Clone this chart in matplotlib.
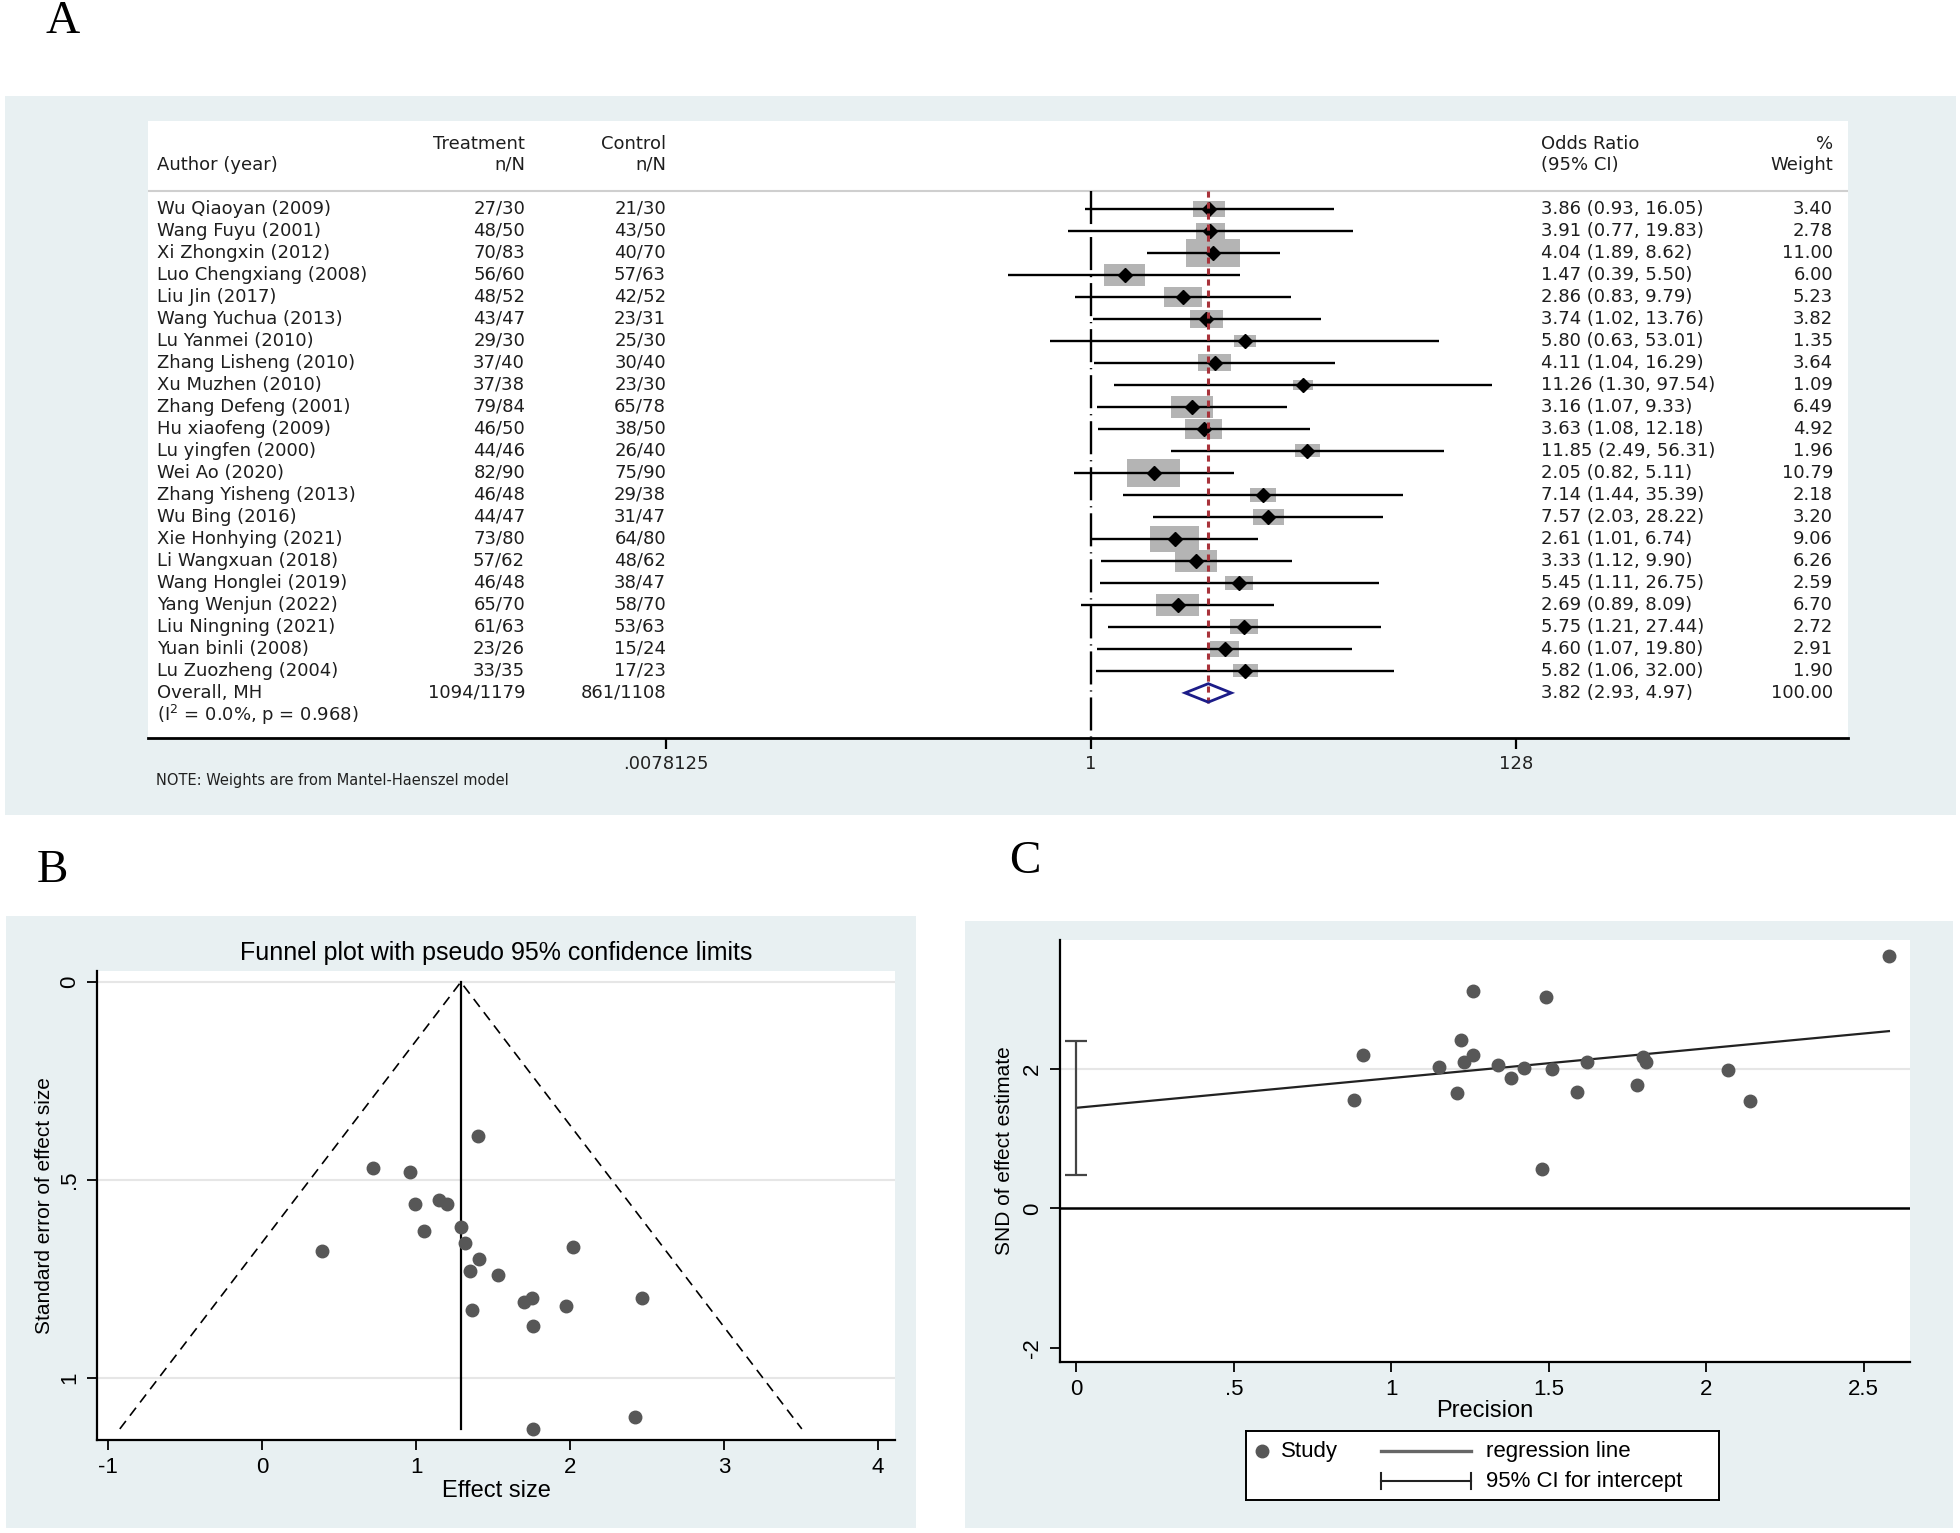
import numpy as np
import matplotlib
matplotlib.use("Agg")
import matplotlib.pyplot as plt
from matplotlib.patches import Rectangle, Polygon
from matplotlib.transforms import blended_transform_factory
from matplotlib.ticker import NullLocator

plt.rcParams['font.family'] = ['Liberation Sans Narrow', 'Liberation Sans', 'DejaVu Sans']

# ---- panel A: forest plot data ----
authors = ["Wu Qiaoyan (2009)", "Wang Fuyu (2001)", "Xi Zhongxin (2012)", "Luo Chengxiang (2008)",
           "Liu Jin (2017)", "Wang Yuchua (2013)", "Lu Yanmei (2010)", "Zhang Lisheng (2010)",
           "Xu Muzhen (2010)", "Zhang Defeng (2001)", "Hu xiaofeng (2009)", "Lu yingfen (2000)",
           "Wei Ao (2020)", "Zhang Yisheng (2013)", "Wu Bing (2016)", "Xie Honhying (2021)",
           "Li Wangxuan (2018)", "Wang Honglei (2019)", "Yang Wenjun (2022)", "Liu Ningning (2021)",
           "Yuan binli (2008)", "Lu Zuozheng (2004)"]
treat = ["27/30", "48/50", "70/83", "56/60", "48/52", "43/47", "29/30", "37/40", "37/38", "79/84", "46/50",
         "44/46", "82/90", "46/48", "44/47", "73/80", "57/62", "46/48", "65/70", "61/63", "23/26", "33/35"]
ctrl = ["21/30", "43/50", "40/70", "57/63", "42/52", "23/31", "25/30", "30/40", "23/30", "65/78", "38/50",
        "26/40", "75/90", "29/38", "31/47", "64/80", "48/62", "38/47", "58/70", "53/63", "15/24", "17/23"]
odds = [3.86, 3.91, 4.04, 1.47, 2.86, 3.74, 5.80, 4.11, 11.26, 3.16, 3.63,
        11.85, 2.05, 7.14, 7.57, 2.61, 3.33, 5.45, 2.69, 5.75, 4.60, 5.82]
ci_lo = [0.93, 0.77, 1.89, 0.39, 0.83, 1.02, 0.63, 1.04, 1.30, 1.07, 1.08,
         2.49, 0.82, 1.44, 2.03, 1.01, 1.12, 1.11, 0.89, 1.21, 1.07, 1.06]
ci_hi = [16.05, 19.83, 8.62, 5.50, 9.79, 13.76, 53.01, 16.29, 97.54, 9.33, 12.18,
         56.31, 5.11, 35.39, 28.22, 6.74, 9.90, 26.75, 8.09, 27.44, 19.80, 32.00]
weight = [3.40, 2.78, 11.00, 6.00, 5.23, 3.82, 1.35, 3.64, 1.09, 6.49, 4.92,
          1.96, 10.79, 2.18, 3.20, 9.06, 6.26, 2.59, 6.70, 2.72, 2.91, 1.90]
overall_label = "Overall, MH"
overall_treat = "1094/1179"
overall_ctrl = "861/1108"
overall_or, overall_lo, overall_hi = 3.82, 2.93, 4.97
overall_weight = 100.00
het_text = r"(I$^{2}$ = 0.0%, p = 0.968)"
forest_ticks = [2 ** -7, 1, 2 ** 7]
forest_ticklabels = [".0078125", "1", "128"]

# ---- panel B: funnel plot data (log OR, SE) ----
effect = [1.35, 1.36, 1.40, 0.39, 1.05, 1.32, 1.76, 1.41, 2.42, 1.15, 1.29,
          2.47, 0.72, 1.97, 2.02, 0.96, 1.20, 1.70, 0.99, 1.75, 1.53, 1.76]
se = [0.73, 0.83, 0.39, 0.68, 0.63, 0.66, 1.13, 0.70, 1.10, 0.55, 0.62,
      0.80, 0.47, 0.82, 0.67, 0.48, 0.56, 0.81, 0.56, 0.80, 0.74, 0.87]
pooled = 1.29

# ---- panel C: Galbraith / Egger plot data ----
precision = [1.38, 1.21, 2.58, 1.48, 1.59, 1.51, 0.88, 1.42, 0.91, 1.81, 1.62,
             1.26, 2.14, 1.22, 1.49, 2.07, 1.80, 1.23, 1.78, 1.26, 1.34, 1.15]
snd = [1.86, 1.65, 3.61, 0.57, 1.67, 1.99, 1.55, 2.01, 2.20, 2.09, 2.09,
       3.11, 1.54, 2.41, 3.02, 1.98, 2.16, 2.09, 1.76, 2.20, 2.05, 2.03]
egger_intercept, egger_slope = 1.44, 0.425
egger_ci = (0.48, 2.39)

W, H = 1960, 1533
BG = '#e8f0f2'
fig = plt.figure(figsize=(W / 100, H / 100), dpi=100)
fig.patch.set_facecolor('white')


def frac_box(x0, y0, x1, y1):
    # pixel box (top-left origin) -> figure fraction rect
    return [x0 / W, 1 - y1 / H, (x1 - x0) / W, (y1 - y0) / H]


def panel_bg(x0, y0, x1, y1):
    r = frac_box(x0, y0, x1, y1)
    fig.add_artist(Rectangle((r[0], r[1]), r[2], r[3], transform=fig.transFigure,
                             facecolor=BG, edgecolor='none', zorder=0))


panel_bg(5, 96, 1956, 815)
panel_bg(6, 916, 916, 1528)
panel_bg(965, 921, 1953, 1528)

serif = ['Liberation Serif', 'DejaVu Serif']
fig.text(63 / W, 1 - 22 / H, "A", fontsize=34, family=serif, ha='center', va='center')
fig.text(52 / W, 1 - 871 / H, "B", fontsize=34, family=serif, ha='center', va='center')
fig.text(1025 / W, 1 - 862 / H, "C", fontsize=34, family=serif, ha='center', va='center')

# ================= A: forest plot =================
ax = fig.add_axes(frac_box(148, 121, 1848, 738))
ax.set_facecolor('white')
ax.set_xscale('log', base=2)
ax.set_xlim(2 ** -15.53, 2 ** 12.47)
ax.set_ylim(24.05, -4.0)
for s in ['top', 'left', 'right']:
    ax.spines[s].set_visible(False)
ax.spines['bottom'].set_linewidth(2)
ax.set_yticks([])
ax.xaxis.set_minor_locator(NullLocator())
ax.set_xticks(forest_ticks)
ax.set_xticklabels(forest_ticklabels, fontfamily='DejaVu Sans', fontsize=13, color='#222222')
ax.tick_params(axis='x', length=8, width=1.6, pad=4)

rows = np.arange(len(authors))
y_overall = len(authors)
y_het = len(authors) + 1
px_per_log2 = 425 / 7.0
px_per_row = 22.0

# weight boxes (area ~ weight)
for o, w, y in zip(odds, weight, rows):
    wpx = 15 * np.sqrt(w) + 4
    hw = wpx / 2 / px_per_log2
    hh = wpx * 0.52 / 2 / px_per_row
    ax.add_patch(Rectangle((o * 2 ** -hw, y - hh), o * 2 ** hw - o * 2 ** -hw, 2 * hh,
                           facecolor='#b4b4b4', edgecolor='none', zorder=2))

ax.hlines(rows, ci_lo, ci_hi, color='black', lw=1.7, zorder=3)
ax.plot(odds, rows, 'D', color='black', ms=7, zorder=4)

# null line and overall effect line
ax.plot([1, 1], [-0.82, 24.05], color='black', lw=1.7, dashes=(14, 2.5, 0.5, 2.5), zorder=3)
ax.plot([overall_or, overall_or], [-0.82, y_overall + 0.45], color='#a8323a', lw=2.2,
        dashes=(2, 1.6), zorder=5)
ax.add_patch(Polygon([(overall_lo, y_overall), (overall_or, y_overall - 0.42),
                      (overall_hi, y_overall), (overall_or, y_overall + 0.42)],
                     closed=True, facecolor='none', edgecolor='#1c1c88', lw=2, zorder=6))
ax.axhline(-0.82, color='#cfcfcf', lw=1.5)

tr = blended_transform_factory(ax.transAxes, ax.transData)


def xcol(px):
    return (px - 148) / 1700.0


tkw = dict(transform=tr, fontsize=13, family='DejaVu Sans', color='#1e1e1e', va='center')
ax.text(xcol(525), -2.95, "Treatment", ha='right', **tkw)
ax.text(xcol(666), -2.95, "Control", ha='right', **tkw)
ax.text(xcol(157), -2.0, "Author (year)", ha='left', **tkw)
ax.text(xcol(525), -2.0, "n/N", ha='right', **tkw)
ax.text(xcol(666), -2.0, "n/N", ha='right', **tkw)
ax.text(xcol(1541), -2.95, "Odds Ratio", ha='left', **tkw)
ax.text(xcol(1541), -2.0, "(95% CI)", ha='left', **tkw)
ax.text(xcol(1833), -2.95, "%", ha='right', **tkw)
ax.text(xcol(1833), -2.0, "Weight", ha='right', **tkw)

for y, a, t, c, o, l, h, w in zip(rows, authors, treat, ctrl, odds, ci_lo, ci_hi, weight):
    ax.text(xcol(157), y, a, ha='left', **tkw)
    ax.text(xcol(525), y, t, ha='right', **tkw)
    ax.text(xcol(666), y, c, ha='right', **tkw)
    ax.text(xcol(1541), y, f"{o:.2f} ({l:.2f}, {h:.2f})", ha='left', **tkw)
    ax.text(xcol(1833), y, f"{w:.2f}", ha='right', **tkw)

ax.text(xcol(157), y_overall, overall_label, ha='left', **tkw)
ax.text(xcol(525), y_overall, overall_treat, ha='right', **tkw)
ax.text(xcol(666), y_overall, overall_ctrl, ha='right', **tkw)
ax.text(xcol(1541), y_overall, f"{overall_or:.2f} ({overall_lo:.2f}, {overall_hi:.2f})", ha='left', **tkw)
ax.text(xcol(1833), y_overall, f"{overall_weight:.2f}", ha='right', **tkw)
ax.text(xcol(157), y_het, het_text, ha='left', **tkw)

fig.text(156 / W, 1 - 780 / H, "NOTE: Weights are from Mantel-Haenszel model",
         fontsize=10.5, family='DejaVu Sans', color='#222222', ha='left', va='center')

# ================= B: funnel plot =================
axb = fig.add_axes(frac_box(97, 971, 895, 1440))
axb.set_facecolor('white')
axb.set_xlim(-1.073, 4.11)
axb.set_ylim(1.158, -0.028)
for s in ['top', 'right']:
    axb.spines[s].set_visible(False)
for s in ['left', 'bottom']:
    axb.spines[s].set_linewidth(1.6)
axb.set_yticks([0, 0.5, 1])
axb.set_yticklabels(['0', '.5', '1'])
axb.set_xticks([-1, 0, 1, 2, 3, 4])
axb.set_xticklabels(['-1', '0', '1', '2', '3', '4'])
axb.tick_params(axis='both', length=7, width=1.3, labelsize=16, pad=5)
axb.tick_params(axis='y', labelrotation=90)
for t in axb.get_yticklabels():
    t.set_va('center')
for g in [0, 0.5, 1]:
    axb.axhline(g, color='#e6e6e6', lw=1.5, zorder=0)

se_max = max(se)
axb.plot([pooled - 1.96 * se_max, pooled, pooled + 1.96 * se_max], [se_max, 0, se_max],
         color='black', lw=1.2, dashes=(6, 4))
axb.plot([pooled, pooled], [0, se_max], color='black', lw=1.6)
axb.plot(effect, se, 'o', color='#575757', ms=9, zorder=4)
axb.set_title("Funnel plot with pseudo 95% confidence limits", fontsize=18, pad=8)
axb.set_xlabel("Effect size", fontsize=17, labelpad=2)
axb.set_ylabel("Standard error of effect size", fontsize=15, labelpad=4)

# ================= C: Galbraith plot =================
axc = fig.add_axes(frac_box(1060, 940, 1910, 1362))
axc.set_facecolor('white')
axc.set_xlim(-0.052, 2.647)
axc.set_ylim(-2.196, 3.84)
for s in ['top', 'right']:
    axc.spines[s].set_visible(False)
for s in ['left', 'bottom']:
    axc.spines[s].set_linewidth(1.6)
axc.set_xticks([0, 0.5, 1, 1.5, 2, 2.5])
axc.set_xticklabels(['0', '.5', '1', '1.5', '2', '2.5'])
axc.set_yticks([-2, 0, 2])
axc.set_yticklabels(['-2', '0', '2'])
axc.tick_params(axis='both', length=7, width=1.3, labelsize=16, pad=5)
axc.tick_params(axis='y', labelrotation=90)
for t in axc.get_yticklabels():
    t.set_va('center')
axc.axhline(2, color='#e6e6e6', lw=1.5, zorder=0)
axc.axhline(0, color='black', lw=1.8, zorder=1)

xr = np.array([0, max(precision)])
axc.plot(xr, egger_intercept + egger_slope * xr, color='#222222', lw=1.6, zorder=3)
axc.errorbar([0], [egger_intercept],
             yerr=[[egger_intercept - egger_ci[0]], [egger_ci[1] - egger_intercept]],
             fmt='none', ecolor='#444444', elinewidth=1.6, capsize=8, capthick=1.6, zorder=3)
axc.plot(precision, snd, 'o', color='#575757', ms=9, zorder=4)
axc.set_xlabel("Precision", fontsize=17, labelpad=0)
axc.set_ylabel("SND of effect estimate", fontsize=15, labelpad=6)

# legend box, drawn by hand to keep the Stata layout
axl = fig.add_axes(frac_box(1246, 1431, 1719, 1500))
axl.set_xlim(1246, 1719)
axl.set_ylim(1500, 1431)
axl.set_xticks([])
axl.set_yticks([])
for s in axl.spines.values():
    s.set_linewidth(1.4)
axl.plot([1262], [1451], 'o', color='#575757', ms=9)
axl.text(1281, 1451, "Study", fontsize=16, va='center', ha='left')
axl.plot([1381, 1471], [1451, 1451], color='#666666', lw=2.4)
axl.text(1486, 1451, "regression line", fontsize=16, va='center', ha='left')
axl.plot([1381, 1471], [1481, 1481], color='#222222', lw=1.5)
axl.plot([1381, 1381], [1473, 1489], color='#222222', lw=1.5)
axl.plot([1471, 1471], [1473, 1489], color='#222222', lw=1.5)
axl.text(1486, 1481, "95% CI for intercept", fontsize=16, va='center', ha='left')

fig.savefig("out.png", dpi=100, facecolor='white')
